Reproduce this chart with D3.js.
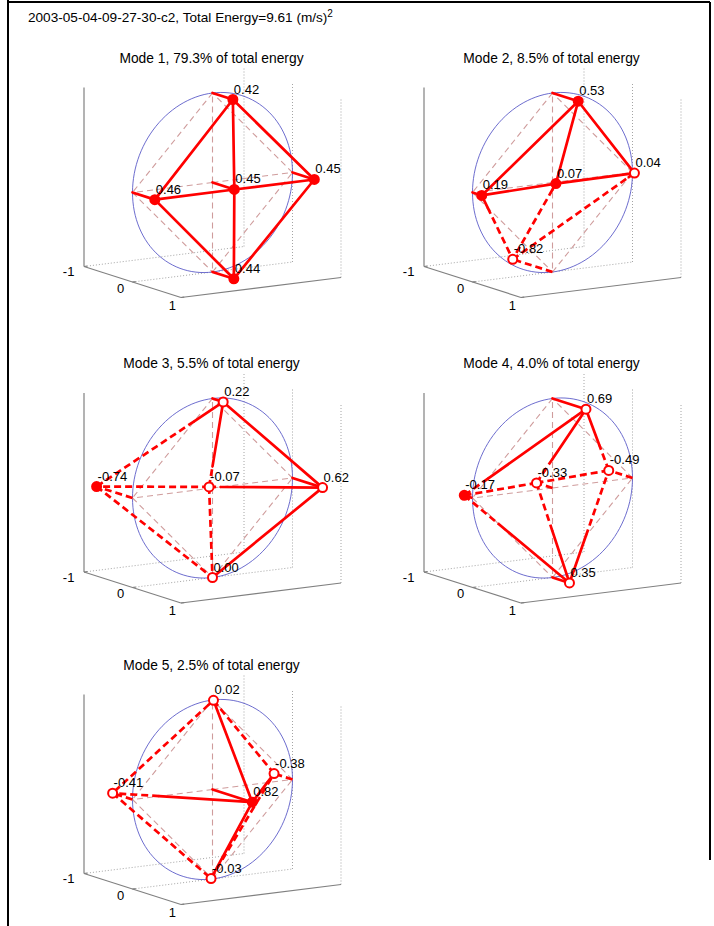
<!DOCTYPE html>
<html>
<head>
<meta charset="utf-8">
<script src="https://cdnjs.cloudflare.com/ajax/libs/d3/7.8.5/d3.min.js"></script>
<style>
  html, body { margin: 0; padding: 0; background: #fff; }
  svg { display: block; }
  text { font-family: Arial, "Liberation Sans", Helvetica, sans-serif; fill: #000; }
</style>
</head>
<body>
<div id="chart"></div>
<script>
// ---------------- data ----------------
const figureTitle = "2003-05-04-09-27-30-c2, Total Energy=9.61 (m/s)";
const titleSuperscript = "2";
const modeNames = ["Mode 1", "Mode 2", "Mode 3", "Mode 4", "Mode 5"];
const energyPct = ["79.3", "8.5", "5.5", "4.0", "2.5"];

// sensor order: top, left, centre, right, bottom
const sensorNames = ["top", "left", "centre", "right", "bottom"];
const sensorX = [0, -1, 0, 1, 0];
const sensorZ = [1, 0, 0, 0, -1];
const sensorEdges = [[0, 1], [1, 4], [4, 3], [3, 0], [2, 0], [2, 1], [2, 3], [2, 4]];

const mode1 = [0.42, 0.46, 0.45, 0.45, 0.44];
const mode2 = [0.53, 0.19, 0.07, 0.04, -0.82];
const mode3 = [0.22, -0.74, -0.07, 0.62, 0.00];
const mode4 = [0.69, -0.17, -0.33, -0.49, 0.35];
const mode5 = [0.02, -0.41, 0.82, -0.38, -0.03];
const modeValues = [mode1, mode2, mode3, mode4, mode5];

// marker appearance (1 = filled dot, 0 = ring)
const filled1 = [1, 1, 1, 1, 1];
const filled2 = [1, 1, 1, 0, 0];
const filled3 = [0, 1, 0, 0, 0];
const filled4 = [0, 1, 0, 0, 0];
const filled5 = [0, 0, 1, 0, 0];
const markerFilled = [filled1, filled2, filled3, filled4, filled5];

const yTicks = [-1, 0, 1];

// ---------------- layout ----------------
const W = 714, H = 926;
const panelCols = [212.5, 552.5];
const panelRows = [182.5, 488, 789.5];

const fmt = d3.formatLocale({decimal: ".", thousands: ",", grouping: [3], currency: ["", ""], minus: "-"}).format(".2f");

const svg = d3.select("#chart").append("svg")
  .attr("width", W).attr("height", H)
  .attr("viewBox", `0 0 ${W} ${H}`);

svg.append("rect").attr("width", W).attr("height", H).attr("fill", "#fff");

// page frame
const frame = svg.append("g").attr("stroke", "#000").attr("stroke-width", 2).attr("fill", "none");
frame.append("line").attr("x1", 8).attr("x2", 8).attr("y1", 0).attr("y2", H);
frame.append("line").attr("x1", 8).attr("x2", 710).attr("y1", 2).attr("y2", 2);
frame.append("line").attr("x1", 710).attr("x2", 710).attr("y1", 2).attr("y2", 860);

// figure title
const ft = svg.append("text").attr("x", 28).attr("y", 22).attr("font-size", 13.6);
ft.append("tspan").text(figureTitle);
ft.append("tspan").attr("font-size", 10).attr("dy", -5).text(titleSuperscript);

// projection built from linear scales (orthographic view)
function makeProjection(cx, cy) {
  const xToH = d3.scaleLinear().domain([-1, 1]).range([-80, 80]);
  const xToV = d3.scaleLinear().domain([-1, 1]).range([10, -10]);
  const yToH = d3.scaleLinear().domain([-1, 1]).range([-48.5, 48.5]);
  const yToV = d3.scaleLinear().domain([-1, 1]).range([-15.5, 15.5]);
  const zToV = d3.scaleLinear().domain([-1, 1]).range([89.5, -89.5]);
  return (x, y, z) => [cx + xToH(x) + yToH(y), cy + xToV(x) + yToV(y) + zToV(z)];
}

const red = "#ff0000";
const line = d3.line();

function drawPanel(k) {
  const cx = panelCols[k % 2];
  const cy = panelRows[Math.floor(k / 2)];
  const P = makeProjection(cx, cy);
  const vals = modeValues[k];
  const g = svg.append("g");

  // title
  g.append("text").attr("x", cx - 1).attr("y", cy - 120)
    .attr("text-anchor", "middle").attr("font-size", 13.8)
    .text(`${modeNames[k]}, ${energyPct[k]}% of total energy`);

  // grid (dotted)
  const grid = g.append("g").attr("stroke", "#9a9a9a").attr("stroke-width", 0.9)
    .attr("stroke-dasharray", "1,2").attr("fill", "none");
  yTicks.forEach(t => {
    if (t < 1) grid.append("path").attr("d", line([P(-1, t, -1), P(1, t, -1)]));
    grid.append("path").attr("d", line([P(1, t, -1), P(1, t, 1)]));
  });

  // axes (solid)
  const ax = g.append("g").attr("stroke", "#808080").attr("stroke-width", 1.2).attr("fill", "none");
  ax.append("path").attr("d", line([P(-1, -1, -1), P(-1, -1, 1)]));
  ax.append("path").attr("d", line([P(-1, -1, -1), P(-1, 1, -1)]));
  ax.append("path").attr("d", line([P(-1, 1, -1), P(1, 1, -1)]));
  yTicks.forEach(t => {
    ax.append("path").attr("d", line([P(-1, t, -1), P(-0.96, t, -1)]));
    const lp = P(-1.15, 1.07 * t, -1.05);
    g.append("text").attr("x", lp[0]).attr("y", lp[1] + 5)
      .attr("text-anchor", "middle").attr("font-size", 13).text(t);
  });

  // great circle in the y = 0 plane
  const circ = d3.range(0, 361, 3).map(a => P(Math.cos(a * Math.PI / 180), 0, Math.sin(a * Math.PI / 180)));
  g.append("path").attr("d", line(circ)).attr("fill", "none")
    .attr("stroke", "#5c5cc8").attr("stroke-width", 0.9);

  // reference (undisplaced) frame, thin dashed
  const ref = g.append("g").attr("stroke", "#cf9c9c").attr("stroke-width", 1.1)
    .attr("stroke-dasharray", "6,4").attr("fill", "none");
  sensorEdges.forEach(([i, j]) => {
    ref.append("path").attr("d", line([P(sensorX[i], 0, sensorZ[i]), P(sensorX[j], 0, sensorZ[j])]));
  });

  // displaced frame: solid where y >= 0, dashed where y < 0
  const dg = g.append("g").attr("stroke", red).attr("stroke-width", 2.7)
    .attr("fill", "none").attr("stroke-linecap", "round");
  function seg(a, b, neg) {
    dg.append("path").attr("d", line([P(...a), P(...b)]))
      .attr("stroke-dasharray", neg ? "7,4" : null)
      .attr("stroke-linecap", neg ? "butt" : "round");
  }
  sensorEdges.forEach(([i, j]) => {
    const a = [sensorX[i], vals[i], sensorZ[i]];
    const b = [sensorX[j], vals[j], sensorZ[j]];
    if (vals[i] * vals[j] < 0) {
      const t = vals[i] / (vals[i] - vals[j]);
      const m = [a[0] + t * (b[0] - a[0]), 0, a[2] + t * (b[2] - a[2])];
      seg(a, m, vals[i] < 0);
      seg(m, b, vals[j] < 0);
    } else {
      seg(a, b, vals[i] + vals[j] < 0);
    }
  });
  // displacement stubs
  vals.forEach((v, i) => {
    if (v !== 0) seg([sensorX[i], 0, sensorZ[i]], [sensorX[i], v, sensorZ[i]], v < 0);
  });

  // markers and value labels
  vals.forEach((v, i) => {
    const p = P(sensorX[i], v, sensorZ[i]);
    g.append("circle").attr("cx", p[0]).attr("cy", p[1]).attr("r", 4.5)
      .attr("stroke", red).attr("stroke-width", 2)
      .attr("fill", markerFilled[k][i] ? red : "#fff");
  });
  vals.forEach((v, i) => {
    const p = P(sensorX[i], v, sensorZ[i]);
    g.append("text").attr("x", p[0] + 1).attr("y", p[1] - 6)
      .attr("font-size", 13).text(fmt(v));
  });
}

modeValues.forEach((_, k) => drawPanel(k));
</script>
</body>
</html>
